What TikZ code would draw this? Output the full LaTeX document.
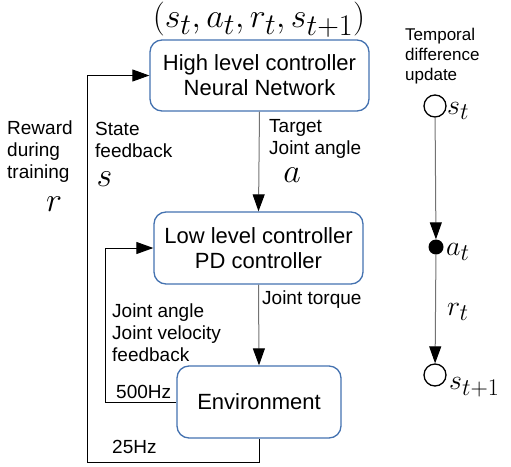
\RequirePackage{fix-cm}
\documentclass[tikz,border=0pt]{standalone}
\usepackage[no-math]{fontspec}
\setmainfont{Liberation Sans}
\usetikzlibrary{arrows.meta}
\DeclareMathSizes{34}{34}{30}{22}
\DeclareMathSizes{28}{28}{24}{18}
\definecolor{boxblue}{RGB}{68,114,176}
\tikzset{
	block/.style={draw=boxblue, line width=1.3pt, rounded corners=12pt, align=center,
		font=\fontsize{22}{25}\selectfont},
	lbl/.style={anchor=west, align=left, inner sep=0pt, font=\fontsize{19}{22}\selectfont},
	sym/.style={inner sep=0pt, font=\fontsize{34}{36}\selectfont},
	tdsym/.style={anchor=west, inner sep=0pt, font=\fontsize{28}{30}\selectfont},
	flow/.style={line width=1pt, -{Triangle[length=17pt,width=12pt,color=black]}},
}
\begin{document}
\begin{tikzpicture}[x=1pt,y=-1pt]
	\useasboundingbox (0,0) rectangle (511,466);
	% controller boxes
	\node[block, minimum width=219pt, minimum height=71pt] (hl) at (259.5,75.5) {High level controller\\Neural Network};
	\node[block, minimum width=209pt, minimum height=72pt] (ll) at (258.5,248) {Low level controller\\PD controller};
	\node[block, minimum width=164pt, minimum height=72pt] (env) at (259,402) {Environment};
	\node[sym] (tuple) at (259,20) {$(s_t,a_t,r_t,s_{t+1})$};
	% forward path
	\draw[flow, black!55] (hl.south) -- (ll.north);
	\draw[flow, black!55] (ll.south) -- (env.north);
	% feedback loops
	\coordinate (outer) at (87,462);
	\coordinate (inner) at (105,402);
	\draw[flow] (env.south) |- (outer) |- (hl.west);
	\draw[flow] (env.west) -- (inner) |- (ll.west);
	% labels
	\node[lbl] (reward) at (7,152) {Reward\\during\\training};
	\node[sym] (r) at (54,204) {$r$};
	\node[lbl] (state) at (95,140) {State\\feedback};
	\node[sym] (s) at (104.5,179) {$s$};
	\node[lbl] (target) at (269,139) {Target\\Joint angle};
	\node[sym] (a) at (292,175) {$a$};
	\node[lbl] (torque) at (262,300) {Joint torque};
	\node[lbl] (jfb) at (112,333) {Joint angle\\Joint velocity\\feedback};
	\node[lbl] (fast) at (116,392) {500Hz};
	\node[lbl] (slow) at (112,447) {25Hz};
	% temporal difference update
	\node[lbl, font=\fontsize{17}{20}\selectfont] (td) at (405,56) {Temporal\\difference\\update};
	\node[draw, circle, line width=1.3pt, minimum size=22pt, inner sep=0pt] (st) at (435,106) {};
	\node[fill, circle, minimum size=15pt, inner sep=0pt] (at) at (436,247) {};
	\node[draw, circle, line width=1.3pt, minimum size=22pt, inner sep=0pt] (st1) at (435,375) {};
	\draw[flow, black!55] (st) -- (at);
	\draw[flow, black!55] (at) -- (st1);
	\node[tdsym] (stl) at (447,111) {$s_t$};
	\node[tdsym] (atl) at (446,252) {$a_t$};
	\node[tdsym] (rtl) at (447,312) {$r_t$};
	\node[tdsym] (st1l) at (449,387) {$s_{t+1}$};
\end{tikzpicture}
\end{document}
